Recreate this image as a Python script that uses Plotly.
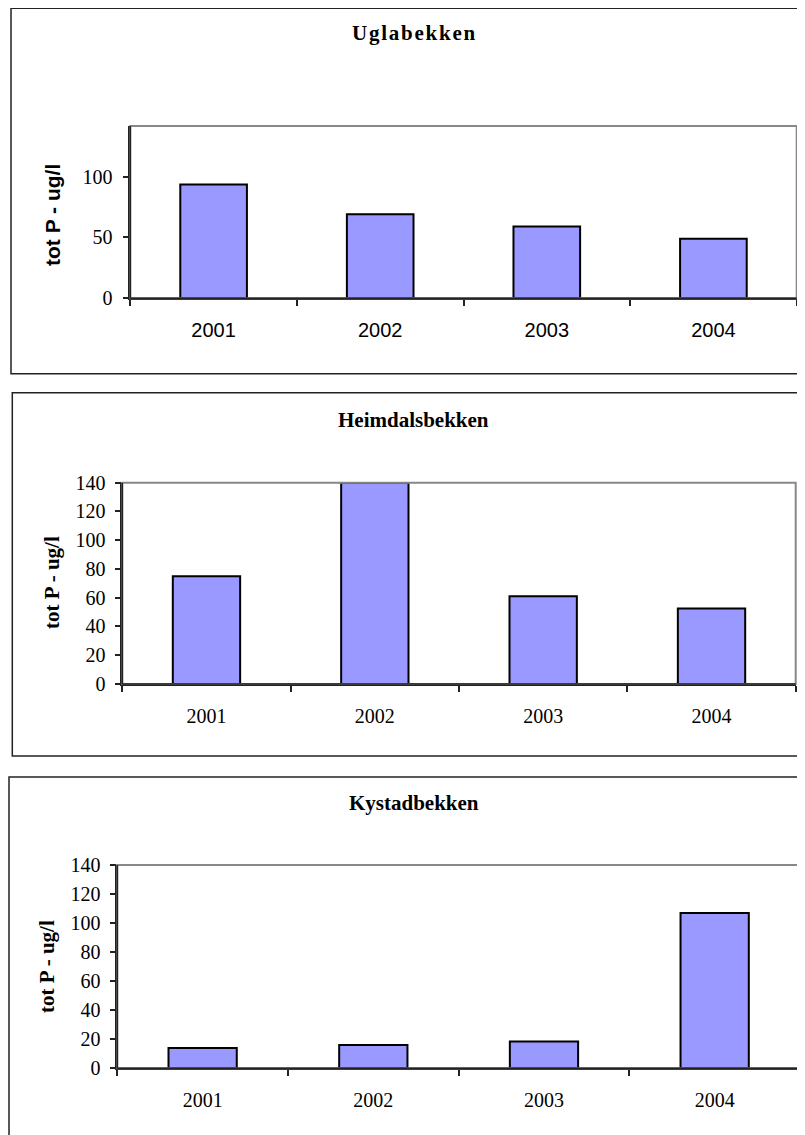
import plotly.graph_objects as go

years = ["2001", "2002", "2003", "2004"]
ugla_vals = [93.5, 69, 59, 49]
heimdal_vals = [75, 140, 61, 52.5]
kystad_vals = [14, 16, 18.5, 107]
titles = ["Uglabekken", "Heimdalsbekken", "Kystadbekken"]
y_title = "tot P - ug/l"

# page has an 8px body margin; figure is sized to fit the 805x1135 window
OFF = 8
W, H = 805 - OFF, 1135 - OFF
def px(x):
    return (x - OFF) / W
def py(y):
    return 1 - (y - OFF) / H

BAR_COLOR = "#9999FF"
SERIF = "Liberation Serif, Times New Roman, serif"
SANS = "Liberation Sans, Arial, sans-serif"

# plot areas (pixels in window): x0, x1, ytop, ybottom
areas = [
    (130.3, 796.7, 126.0, 298.3),
    (122.3, 795.7, 482.7, 684.0),
    (117.3, 800.0, 865.0, 1068.3),
]
frames = [
    (11, 8.3, 373.8),
    (12.3, 392.7, 756.0),
    (7.3, 777.0, 1140.0),
]
title_pos = [(413, 33), (413.5, 420), (414, 803)]
ytitle_pos = [(53, 215), (52, 583), (47, 967)]
series = [ugla_vals, heimdal_vals, kystad_vals]
yranges = [[0, 141.5], [0, 140], [0, 140]]
dticks = [50, 20, 20]

fig = go.Figure()
shapes = []
annotations = []

for i in range(3):
    ax = "" if i == 0 else str(i + 1)
    x0, x1, yt, yb = areas[i]
    fig.add_trace(go.Bar(
        x=years, y=series[i],
        marker=dict(color=BAR_COLOR, line=dict(color="black", width=2)),
        xaxis="x" + ax, yaxis="y" + ax, showlegend=False,
    ))
    xtick_font = dict(family=SANS if i == 0 else SERIF, size=20, color="black")
    ytick_font = dict(family=SERIF, size=20, color="black")
    fig.update_layout(**{
        "xaxis" + ax: dict(
            domain=[px(x0), px(x1)], anchor="y" + ax,
            type="category", range=[-0.5, 3.5],
            tickson="boundaries", ticks="outside", ticklen=6, tickwidth=1.5,
            tickcolor="#222", showline=True, linecolor="#222", linewidth=1.5,
            showgrid=False, zeroline=False, tickfont=xtick_font,
            ticklabelstandoff=13, fixedrange=True, automargin=False,
        ),
        "yaxis" + ax: dict(
            domain=[py(yb), py(yt)], anchor="x" + ax,
            range=yranges[i], dtick=dticks[i], tick0=0,
            ticks="outside", ticklen=6, tickwidth=1.5, tickcolor="#222",
            showline=True, linecolor="#222", linewidth=1.5,
            showgrid=False, zeroline=False, tickfont=ytick_font,
            ticklabelstandoff=6 if i == 0 else 5, fixedrange=True,
            automargin=False,
        ),
    })
    # gray plot-area border (top/right)
    shapes.append(dict(type="rect", xref="paper", yref="paper",
                       x0=px(x0), x1=px(x1), y0=py(yb), y1=py(yt),
                       line=dict(color="#888888", width=2), layer="above"))
    # redraw dark left/bottom lines on top
    shapes.append(dict(type="line", xref="paper", yref="paper",
                       x0=px(x0), x1=px(x0), y0=py(yb), y1=py(yt),
                       line=dict(color="#222", width=1.5)))
    shapes.append(dict(type="line", xref="paper", yref="paper",
                       x0=px(x0), x1=px(x1), y0=py(yb), y1=py(yb),
                       line=dict(color="#222", width=1.5)))
    # outer chart frame (extends past right edge)
    fl, ft, fb = frames[i]
    shapes.append(dict(type="rect", xref="paper", yref="paper",
                       x0=max(px(fl), 1.0 / W), x1=px(820), y0=py(fb), y1=py(ft),
                       line=dict(color="#222", width=1.5)))
    # chart title
    ttext = titles[i]
    if i == 0:
        ttext = "\u200a".join(list(ttext))
    tx, ty = title_pos[i]
    annotations.append(dict(text="<b>" + ttext + "</b>", xref="paper", yref="paper",
                            x=px(tx), y=py(ty), showarrow=False,
                            xanchor="center", yanchor="middle",
                            font=dict(family=SERIF, size=21, color="black")))
    # y-axis title
    yx, yy = ytitle_pos[i]
    annotations.append(dict(text="<b>" + y_title + "</b>", xref="paper", yref="paper",
                            x=px(yx), y=py(yy), showarrow=False, textangle=-90,
                            xanchor="center", yanchor="middle",
                            font=dict(family=SANS if i == 0 else SERIF, size=21, color="black")))

fig.update_layout(
    width=W, height=H,
    margin=dict(l=0, r=0, t=0, b=0, pad=0),
    paper_bgcolor="white", plot_bgcolor="rgba(0,0,0,0)",
    bargap=0.6, shapes=shapes, annotations=annotations,
)

fig.write_html("out.html")
